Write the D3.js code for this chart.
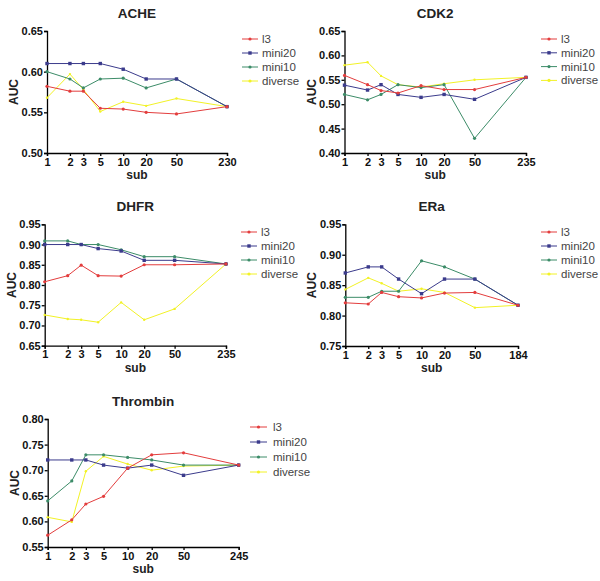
<!DOCTYPE html>
<html><head><meta charset="utf-8">
<script src="https://cdn.jsdelivr.net/npm/d3@7"></script>
<style>body{margin:0;background:#fff}svg{display:block}text{font-family:"Liberation Sans",Arial,sans-serif}</style>
</head><body>
<svg id="c" width="600" height="581"></svg>
<script>
const seriesNames = ["l3","mini20","mini10","diverse"];
const colors = ["#e33d3d","#3b3b8c","#3c8c68","#f2f226"];
const subs = [1,2,3,5,10,20,50];

const acheLast = 230, cdk2Last = 235, dhfrLast = 235, eraLast = 184, thrLast = 245;

const acheL3 = [0.582,0.576,0.576,0.555,0.554,0.550,0.548,0.557];
const acheMini20 = [0.610,0.610,0.610,0.610,0.603,0.591,0.591,0.557];
const acheMini10 = [0.600,0.591,0.580,0.591,0.592,0.580,0.591,0.557];
const acheDiverse = [0.568,0.597,0.578,0.551,0.563,0.558,0.567,0.557];

const cdk2L3 = [0.559,0.540,0.528,0.523,0.538,0.530,0.530,0.555];
const cdk2Mini20 = [0.539,0.529,0.540,0.520,0.514,0.520,0.510,0.555];
const cdk2Mini10 = [0.520,0.509,0.520,0.540,0.534,0.540,0.430,0.555];
const cdk2Diverse = [0.580,0.586,0.558,0.540,0.535,0.542,0.550,0.555];

const dhfrL3 = [0.808,0.823,0.849,0.823,0.822,0.850,0.850,0.852];
const dhfrMini20 = [0.900,0.900,0.900,0.890,0.884,0.861,0.861,0.852];
const dhfrMini10 = [0.909,0.909,0.900,0.900,0.887,0.870,0.870,0.852];
const dhfrDiverse = [0.726,0.716,0.714,0.708,0.757,0.714,0.741,0.852];

const eraL3 = [0.821,0.819,0.838,0.831,0.829,0.837,0.838,0.817];
const eraMini20 = [0.870,0.880,0.880,0.860,0.836,0.860,0.860,0.817];
const eraMini10 = [0.830,0.830,0.840,0.840,0.890,0.880,0.860,0.817];
const eraDiverse = [0.843,0.862,0.853,0.840,0.844,0.838,0.813,0.817];

const thrL3 = [0.573,0.603,0.634,0.649,0.704,0.730,0.734,0.710];
const thrMini20 = [0.720,0.720,0.720,0.710,0.704,0.710,0.690,0.710];
const thrMini10 = [0.640,0.679,0.730,0.730,0.725,0.720,0.710,0.710];
const thrDiverse = [0.608,0.599,0.698,0.727,0.712,0.700,0.708,0.710];

const acheTicks = [0.50,0.55,0.60,0.65];
const cdk2Ticks = [0.40,0.45,0.50,0.55,0.60,0.65];
const dhfrTicks = [0.65,0.70,0.75,0.80,0.85,0.90,0.95];
const eraTicks = [0.75,0.80,0.85,0.90,0.95];
const thrTicks = [0.55,0.60,0.65,0.70,0.75,0.80];

const panels = [
  {title:"ACHE", last:acheLast, data:[acheL3,acheMini20,acheMini10,acheDiverse], yd:[0.50,0.65], ticks:acheTicks,
   box:[47,227,31,153], leg:[242,258,262,39,14]},
  {title:"CDK2", last:cdk2Last, data:[cdk2L3,cdk2Mini20,cdk2Mini10,cdk2Diverse], yd:[0.40,0.65], ticks:cdk2Ticks,
   box:[344.5,526,31,153], leg:[541,557,561,39,13.8]},
  {title:"DHFR", last:dhfrLast, data:[dhfrL3,dhfrMini20,dhfrMini10,dhfrDiverse], yd:[0.65,0.95], ticks:dhfrTicks,
   box:[44.7,226,224.3,345.7], leg:[241,257,261,232,14]},
  {title:"ERa", last:eraLast, data:[eraL3,eraMini20,eraMini10,eraDiverse], yd:[0.75,0.95], ticks:eraTicks,
   box:[345.3,518,224.3,346], leg:[541,557,561,232,14]},
  {title:"Thrombin", last:thrLast, data:[thrL3,thrMini20,thrMini10,thrDiverse], yd:[0.55,0.80], ticks:thrTicks,
   box:[47.7,238.7,419,547], leg:[250,267,273,427,15]}
];

const svg = d3.select("#c");

panels.forEach(p => {
  const [l,r,t,b] = p.box;
  const xs = subs.concat([p.last]);
  const x = d3.scaleLog().domain([1,p.last]).range([l,r]);
  const y = d3.scaleLinear().domain(p.yd).range([b,t]);
  const g = svg.append("g");

  const xa = g.append("g").attr("transform",`translate(0,${b})`)
    .call(d3.axisBottom(x).tickValues(xs).tickFormat(d3.format("d")).tickSize(3).tickPadding(2));
  const ya = g.append("g").attr("transform",`translate(${l},0)`)
    .call(d3.axisLeft(y).tickValues(p.ticks).tickFormat(d3.format(".2f")).tickSize(3).tickPadding(1));
  [xa,ya].forEach(a=>{
    a.select(".domain").attr("stroke","#000").attr("stroke-width",1.3);
    a.selectAll(".tick line").attr("stroke","#000").attr("stroke-width",1.3);
    a.selectAll("text").attr("font-size",11).attr("font-weight","bold").attr("fill","#111")
      .attr("font-family","'Liberation Sans',Arial,sans-serif");
  });

  g.append("text").attr("x",(l+r)/2).attr("y",t-13).attr("text-anchor","middle")
    .attr("font-size",13.5).attr("font-weight","bold").attr("fill","#222").text(p.title);
  g.append("text").attr("x",(l+r)/2).attr("y",b+26).attr("text-anchor","middle")
    .attr("font-size",12).attr("font-weight","bold").attr("fill","#222").text("sub");
  g.append("text").attr("transform",`translate(${l-29},${(t+b)/2}) rotate(-90)`).attr("text-anchor","middle")
    .attr("font-size",12).attr("font-weight","bold").attr("fill","#222").text("AUC");

  const line = d3.line().x((d,i)=>x(xs[i])).y(d=>y(d));
  [3,2,1,0].forEach(si=>{
    const vals = p.data[si];
    g.append("path").datum(vals).attr("d",line).attr("fill","none")
      .attr("stroke",colors[si]).attr("stroke-width",1);
    g.selectAll(null).data(vals).enter().append(si===1?"rect":"circle")
      .each(function(d,i){
        const s = d3.select(this);
        if (si===1) s.attr("x",x(xs[i])-1.7).attr("y",y(d)-1.7).attr("width",3.4).attr("height",3.4);
        else s.attr("cx",x(xs[i])).attr("cy",y(d)).attr("r",si===3?1.2:1.6);
      }).attr("fill",colors[si]);
  });

  const [lx1,lx2,tx,ly,ld] = p.leg;
  seriesNames.forEach((n,i)=>{
    const yy = ly + i*ld;
    g.append("line").attr("x1",lx1).attr("x2",lx2).attr("y1",yy).attr("y2",yy)
      .attr("stroke",colors[i]).attr("stroke-width",1);
    if (i===1) g.append("rect").attr("x",(lx1+lx2)/2-1.7).attr("y",yy-1.7).attr("width",3.4).attr("height",3.4).attr("fill",colors[i]);
    else g.append("circle").attr("cx",(lx1+lx2)/2).attr("cy",yy).attr("r",1.6).attr("fill",colors[i]);
    g.append("text").attr("x",tx).attr("y",yy+4).attr("font-size",11.5).attr("fill","#444").text(n);
  });
});
</script>
</body></html>
